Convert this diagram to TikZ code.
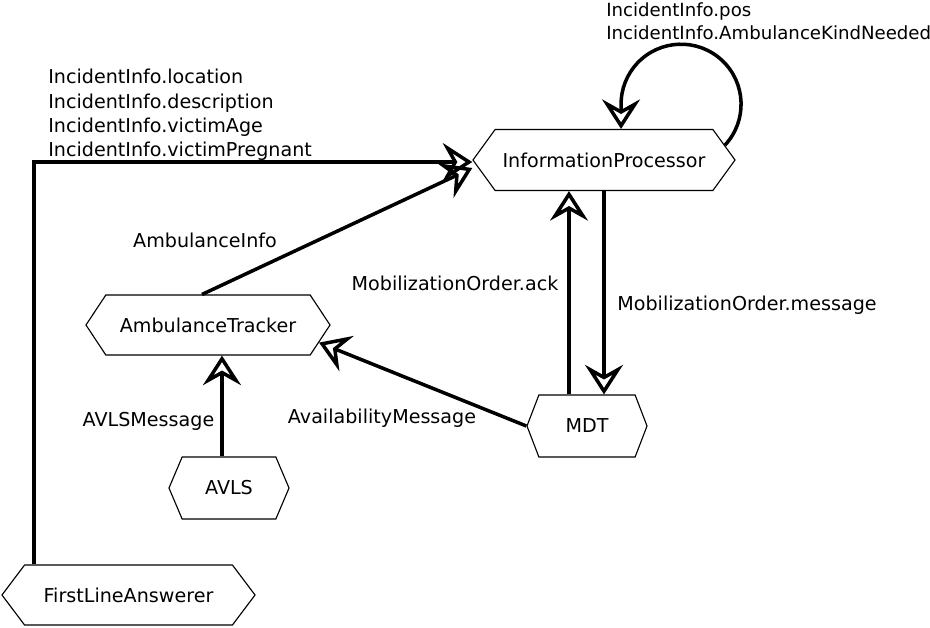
\documentclass[tikz,border=0pt]{standalone}
\usepackage{fontspec}
\setmainfont{DejaVu Sans}
\usetikzlibrary{arrows.meta}
\usetikzlibrary{shapes.symbols}
\usetikzlibrary{calc}

\tikzset{
  unit/.style={signal, signal to=west and east, signal pointer angle=#1, draw, line width=.8pt, inner sep=0pt, fill=white},
  flow/.style={line width=2.5pt, -{Stealth[open, length=21pt, width=27pt, inset=7.5pt]}},
  msg/.style={inner sep=0pt}
}

\begin{document}
\begin{tikzpicture}[x=.025cm, y=-.025cm, font=\fontsize{13.6}{17.3}\selectfont]
\useasboundingbox (0,0) rectangle (930,627);
% components
\node[unit=108, minimum width=6.55cm, minimum height=1.525cm] (ip) at (604,160) {InformationProcessor};
\node[unit=113, minimum width=6.1cm, minimum height=1.5cm] (at) at (208,325) {AmbulanceTracker};
\node[unit=138, minimum width=3cm, minimum height=1.55cm] (mdt) at (587,426) {MDT};
\node[unit=134, minimum width=3cm, minimum height=1.55cm] (avls) at (229,488) {AVLS};
\node[unit=106, minimum width=6.325cm, minimum height=1.5cm] (fla) at (128.5,595) {FirstLineAnswerer};
% messages
\draw[flow] ([xshift=-2.36cm]fla.north) |- ([yshift=-.05cm]ip.west);
\draw[flow] ([xshift=-.15cm]at.north) -- ([yshift=-.2cm]ip.west);
\draw[flow] ([xshift=-.175cm]avls.north) -- ([xshift=-.175cm]avls.north |- at.south);
\draw[flow] (mdt.west) -- (at.-9);
\draw[flow] ([xshift=-.875cm]ip.south |- mdt.north) -- ([xshift=-.875cm]ip.south);
\draw[flow] (ip.south) -- (ip.south |- mdt.north);
\draw[flow] (ip.7) arc[start angle=-43, end angle=180, radius=1.5cm] coordinate (loop) -- (loop |- ip.north);
% labels
\node[msg, anchor=north west, align=left] (incident) at (48,69) {IncidentInfo.location\\IncidentInfo.description\\IncidentInfo.victimAge\\IncidentInfo.victimPregnant};
\node[msg, anchor=north west, align=left, font=\fontsize{12.9}{16.6}\selectfont] (selfinfo) at (606,2) {IncidentInfo.pos\\IncidentInfo.AmbulanceKindNeeded};
\node[msg] (ambinfo) at (205,240) {AmbulanceInfo};
\node[msg] (ack) at (455,283) {MobilizationOrder.ack};
\node[msg] (order) at (747,305) {MobilizationOrder.message};
\node[msg] (avail) at (382,418) {AvailabilityMessage};
\node[msg] (avlsmsg) at (148.5,421) {AVLSMessage};
\end{tikzpicture}
\end{document}
